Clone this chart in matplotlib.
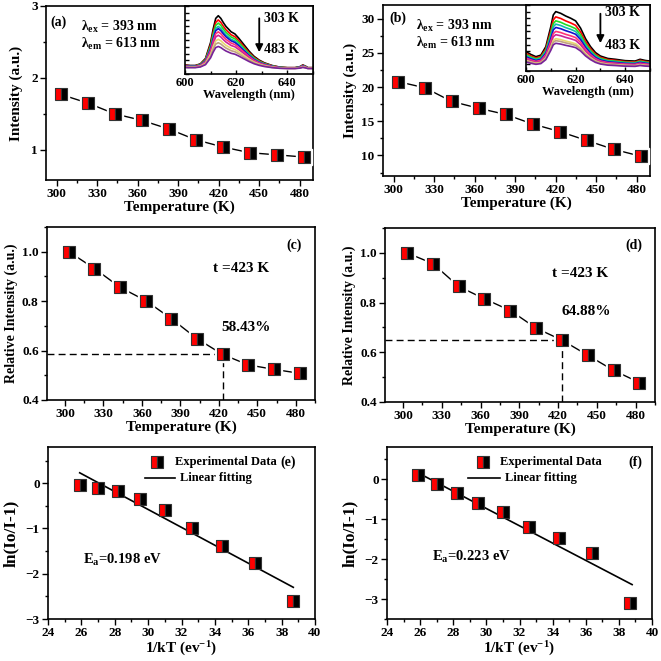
import numpy as np
import matplotlib
matplotlib.use('Agg')
import matplotlib.pyplot as plt
from matplotlib.ticker import MultipleLocator, NullFormatter

# ---------------- data ----------------
temps = [303, 323, 343, 363, 383, 403, 423, 443, 463, 483]
int_a = [1.77, 1.65, 1.50, 1.41, 1.29, 1.14, 1.04, 0.96, 0.93, 0.90]
int_b = [20.8, 19.9, 17.9, 16.9, 16.0, 14.6, 13.5, 12.2, 10.9, 9.9]
rel_c = [1.0, 0.932, 0.856, 0.802, 0.729, 0.648, 0.5843, 0.542, 0.524, 0.508]
rel_d = [1.0, 0.957, 0.865, 0.815, 0.768, 0.697, 0.6488, 0.588, 0.527, 0.478]
t50 = 423
inv_kt = [25.9, 27.0, 28.2, 29.5, 31.0, 32.6, 34.4, 36.4, 38.7]
ln_e = [-0.03, -0.10, -0.18, -0.34, -0.60, -0.98, -1.38, -1.77, -2.61]
ln_f = [0.09, -0.12, -0.36, -0.61, -0.83, -1.19, -1.48, -1.84, -3.11]
fit_e_x = [25.9, 38.7]
fit_e_y = [0.23, -2.30]
fit_f_x = [25.8, 38.8]
fit_f_y = [0.17, -2.64]

wl_a = [600, 602, 604, 606, 608, 610, 611, 612, 613, 614, 615, 616, 618, 619.5, 621,
        623, 625, 627, 629, 631, 634, 637, 640, 643, 645, 646, 647, 648, 650]
shape_a = [0.08, 0.07, 0.07, 0.10, 0.20, 0.50, 0.75, 0.95, 1.00, 0.95, 0.87, 0.80, 0.70, 0.66, 0.58,
           0.46, 0.34, 0.24, 0.17, 0.12, 0.07, 0.04, 0.03, 0.03, 0.05, 0.08, 0.06, 0.03, 0.03]
floor_a = 0.07
peak_a = [0.787, 0.725, 0.678, 0.63, 0.597, 0.55, 0.50, 0.44, 0.39, 0.335]

wl_b = [600, 602, 604, 606, 608, 610, 611, 612, 614, 616, 618, 620, 622, 624, 626,
        628, 630, 633, 636, 640, 644, 646, 648, 650]
shape_b = [0.326, 0.278, 0.241, 0.267, 0.41, 0.745, 0.944, 1.0, 0.971, 0.926, 0.889, 0.844, 0.722, 0.544, 0.411,
           0.311, 0.252, 0.211, 0.197, 0.174, 0.167, 0.197, 0.178, 0.167]
peak_b = [0.90, 0.82, 0.76, 0.71, 0.66, 0.60, 0.55, 0.49, 0.46, 0.42]

spec_colors = ['black', 'red', '#22dd22', '#11bbaa', '#1010cc', '#ff3377',
               '#cc2299', '#e8d870', '#c0a080', '#772299']

# ---------------- style ----------------
plt.rcParams['font.family'] = ['Liberation Serif', 'DejaVu Serif']
plt.rcParams['font.weight'] = 'bold'
plt.rcParams['axes.labelweight'] = 'bold'
plt.rcParams['mathtext.fontset'] = 'custom'
plt.rcParams['mathtext.rm'] = 'Liberation Serif:bold'
plt.rcParams['mathtext.bf'] = 'Liberation Serif:bold'
plt.rcParams['mathtext.it'] = 'Liberation Serif:bold'
plt.rcParams['mathtext.default'] = 'bf'

W = H = 661
fig = plt.figure(figsize=(6.61, 6.61), dpi=100)


def px_axes(l, t, r, b):
    return fig.add_axes([l / W, 1 - b / H, (r - l) / W, (b - t) / H])


def style(ax, xmaj, xmin, ymaj, ymin, lsize=9.5):
    ax.xaxis.set_major_locator(MultipleLocator(xmaj))
    ax.xaxis.set_minor_locator(MultipleLocator(xmin))
    ax.yaxis.set_major_locator(MultipleLocator(ymaj))
    ax.yaxis.set_minor_locator(MultipleLocator(ymin))
    ax.tick_params(which='both', direction='out', top=False, right=False, width=1,
                   labelsize=lsize, pad=2)
    ax.tick_params(which='major', length=4)
    ax.tick_params(which='minor', length=2.5)
    for s in ax.spines.values():
        s.set_linewidth(1.2)


def markers(ax, x, y, line=True, halo=True):
    if line:
        ax.plot(x, y, color='black', lw=1, zorder=2)
    if halo:
        ax.plot(x, y, ls='none', marker='s', ms=11.5, mfc='white', mec='white', zorder=3)
    ax.plot(x, y, ls='none', marker='s', ms=8, fillstyle='left', mfc='red',
            mfcalt='black', mec='#333333', mew=0.8, zorder=4)


def inset(l, t, r, b, wl, curves, arrow_top, arrow_tip, ax_x, t1y, t2y):
    ai = px_axes(l, t, r, b)
    for c, col in zip(curves, spec_colors):
        ai.plot(wl, c, color=col, lw=1.2)
    ai.set_xlim(600, 650)
    ai.set_ylim(0, 1)
    ai.xaxis.set_major_locator(MultipleLocator(20))
    ai.xaxis.set_minor_locator(MultipleLocator(10))
    ai.yaxis.set_major_locator(MultipleLocator(0.1))
    ai.yaxis.set_major_formatter(NullFormatter())
    ai.tick_params(which='both', direction='in', top=False, right=False, width=1, labelsize=9, pad=2)
    ai.tick_params(which='major', length=3)
    ai.tick_params(which='minor', length=2)
    for s in ai.spines.values():
        s.set_linewidth(1.2)
    ai.set_xlabel('Wavelength (nm)', fontsize=9, labelpad=0)
    ai.annotate('', xy=(ax_x, arrow_tip), xytext=(ax_x, arrow_top),
                arrowprops=dict(arrowstyle='-|>', color='black', lw=1.3, mutation_scale=11))
    ai.text(ax_x + 1.8, t1y, '303 K', fontsize=10, va='center', ha='left')
    ai.text(ax_x + 1.8, t2y, '483 K', fontsize=10, va='center', ha='left')
    return ai


# ---------------- (a) ----------------
ax = px_axes(46, 6, 313, 180)
markers(ax, temps, int_a)
ax.set_xlim(292, 490)
ax.set_ylim(0.58, 3)
style(ax, 30, 15, 1, 0.5)
ax.set_xlabel('Temperature (K)', fontsize=11, labelpad=0)
ax.set_ylabel('Intensity (a.u.)', fontsize=11, labelpad=6)
ax.text(0.015, 0.905, '(a)', transform=ax.transAxes, fontsize=10, va='center')
ax.text(0.13, 0.88, 'λ$_{ex}$ = 393 nm', transform=ax.transAxes, fontsize=10, va='center')
ax.text(0.13, 0.78, 'λ$_{em}$ = 613 nm', transform=ax.transAxes, fontsize=10, va='center')
curves_a = [[floor_a + p * s for s in shape_a] for p in peak_a]
inset(185, 6, 313, 74, wl_a, curves_a, 0.86, 0.28, 629, 0.81, 0.36)

# ---------------- (b) ----------------
ax = px_axes(383, 5, 650, 176)
markers(ax, temps, int_b)
ax.set_xlim(292, 490)
ax.set_ylim(7, 32)
style(ax, 30, 15, 5, 2.5)
ax.set_xlabel('Temperature (K)', fontsize=11, labelpad=0)
ax.set_ylabel('Intensity (a.u.)', fontsize=11, labelpad=3)
ax.text(0.025, 0.92, '(b)', transform=ax.transAxes, fontsize=10, va='center')
ax.text(0.125, 0.88, 'λ$_{ex}$ = 393 nm', transform=ax.transAxes, fontsize=10, va='center')
ax.text(0.125, 0.78, 'λ$_{em}$ = 613 nm', transform=ax.transAxes, fontsize=10, va='center')
curves_b = [[p * s for s in shape_b] for p in peak_b]
inset(526, 5, 650, 71, wl_b, curves_b, 0.91, 0.38, 630, 0.88, 0.39)

# ---------------- (c) ----------------
ax = px_axes(47, 227, 315, 400)
markers(ax, temps, rel_c)
ax.set_xlim(286, 495)
ax.set_ylim(0.4, 1.1)
style(ax, 30, 15, 0.2, 0.1)
ax.plot([286, t50], [rel_c[6], rel_c[6]], color='black', lw=1, ls=(0, (5, 3)), zorder=1)
ax.plot([t50, t50], [0.4, rel_c[6]], color='black', lw=1, ls=(0, (5, 3)), zorder=1)
ax.set_xlabel('Temperature (K)', fontsize=11, labelpad=0)
ax.set_ylabel('Relative Intensity (a.u.)', fontsize=10, labelpad=3)
ax.text(0.895, 0.895, '(c)', transform=ax.transAxes, fontsize=10, va='center')
ax.text(0.62, 0.76, 't =423 K', transform=ax.transAxes, fontsize=11, va='center')
ax.text(0.65, 0.42, '58.43%', transform=ax.transAxes, fontsize=11, va='center')

# ---------------- (d) ----------------
ax = px_axes(385, 228, 655, 402)
markers(ax, temps, rel_d)
ax.set_xlim(286, 495)
ax.set_ylim(0.4, 1.1)
style(ax, 30, 15, 0.2, 0.1)
ax.plot([286, t50], [rel_d[6], rel_d[6]], color='black', lw=1, ls=(0, (5, 3)), zorder=1)
ax.plot([t50, t50], [0.4, rel_d[6]], color='black', lw=1, ls=(0, (5, 3)), zorder=1)
ax.set_xlabel('Temperature (K)', fontsize=11, labelpad=0)
ax.set_ylabel('Relative Intensity (a.u.)', fontsize=10, labelpad=3)
ax.text(0.89, 0.9, '(d)', transform=ax.transAxes, fontsize=10, va='center')
ax.text(0.62, 0.74, 't =423 K', transform=ax.transAxes, fontsize=11, va='center')
ax.text(0.655, 0.52, '64.88%', transform=ax.transAxes, fontsize=11, va='center')

# ---------------- (e), (f) ----------------
for (l, t, r, b), yv, fx, fy, ylo, lab, ea, pos in [
        ((48, 447, 315, 619), ln_e, fit_e_x, fit_e_y, -3.0, '(e)', 'E$_{a}$=0.198 eV',
         (0.41, 0.476, 0.363, 0.494, 0.87, 0.13, 0.343)),
        ((387, 447, 652, 619), ln_f, fit_f_x, fit_f_y, -3.5, '(f)', 'E$_{a}$=0.223 eV',
         (0.362, 0.426, 0.306, 0.445, 0.91, 0.17, 0.36))]:
    ax = px_axes(l, t, r, b)
    ax.plot(fx, fy, color='black', lw=1.2, zorder=2)
    markers(ax, inv_kt, yv, line=False, halo=False)
    ax.set_xlim(24, 40)
    ax.set_ylim(ylo, 0.8)
    style(ax, 2, 1, 1, 0.5)
    ax.set_xlabel('1/kT (ev$^{-1}$)', fontsize=11, labelpad=0)
    ax.set_ylabel('ln(Io/I-1)', fontsize=12.5, labelpad=5)
    mx, tx, lx0, ltx, labx, eax, eay = pos
    ax.plot([mx], [0.91], transform=ax.transAxes, ls='none', marker='s', ms=8, fillstyle='left',
            mfc='red', mfcalt='black', mec='#333333', mew=0.8, clip_on=False)
    ax.text(tx, 0.91, 'Experimental Data', transform=ax.transAxes, fontsize=9, va='center')
    ax.plot([lx0, tx], [0.82, 0.82], transform=ax.transAxes, color='black', lw=1.2)
    ax.text(ltx, 0.82, 'Linear fitting', transform=ax.transAxes, fontsize=9, va='center')
    ax.text(labx, 0.91, lab, transform=ax.transAxes, fontsize=10, va='center')
    ax.text(eax, eay, ea, transform=ax.transAxes, fontsize=10.5, va='center')

fig.savefig('out.png', dpi=100)
